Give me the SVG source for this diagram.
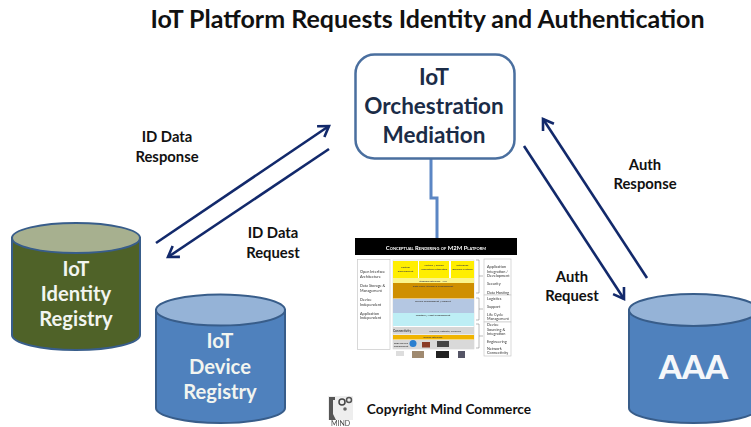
<svg xmlns="http://www.w3.org/2000/svg" width="751" height="427" viewBox="0 0 751 427">
<style>
text{font-family:"Lato","Carlito","Open Sans",sans-serif;font-weight:700;text-anchor:middle}
.lbl{font-size:14.800px;fill:#111}
.cyl{font-size:20.200px;fill:#f2f5f0}
.mid{font-size:22.500px;fill:#1b2c47}
.conn{fill:none;stroke:#12296b;stroke-width:2.600;marker-end:url(#a)}
.side text{font-size:3.800px;font-weight:400;fill:#333;text-anchor:start}
.t3{font-size:2.600px;fill:#444}
.box{fill:#fff;stroke:#c8c8c8;stroke-width:.7}
.br{fill:none;stroke:#777;stroke-width:.5}
</style>
<defs>
<marker id="a" markerUnits="userSpaceOnUse" markerWidth="18" markerHeight="18" refX="13" refY="9" orient="auto"><path d="M3 2.500L13 9L3 15.500" fill="none" stroke="#12296b" stroke-width="2.600"/></marker>
<filter id="b" x="-5%" y="-5%" width="110%" height="110%"><feGaussianBlur stdDeviation=".35"/></filter>
</defs>
<rect width="751" height="427" fill="#fff"/>
<text id="title" x="427.500" y="28" style="font-size:25px;fill:#111">IoT Platform Requests Identity and Authentication</text>

<g id="connectors">
<path d="M431 159V198H437V238" fill="none" stroke="#5b86c4" stroke-width="3"/>
<path class="conn" d="M156 243L329 126"/>
<path class="conn" d="M329 149L168 257"/>
<path class="conn" d="M524 146L624 299"/>
<path class="conn" d="M647 278L543 119"/>
</g>

<g id="orchestration">
<rect x="355.500" y="54.500" width="159" height="104" rx="19" fill="#fff" stroke="#4a6f9f" stroke-width="2.500"/>
<text class="mid" x="434" y="85">IoT</text>
<text class="mid" x="434" y="114">Orchestration</text>
<text class="mid" x="434" y="143">Mediation</text>
</g>

<g id="identity-registry">
<path d="M12 238V335C12 343 40 350 76 350S140 343 140 335V238Z" fill="#4f6228" stroke="#385d8a" stroke-width="2"/>
<ellipse cx="76" cy="238" rx="64" ry="15" fill="#a7b08f" stroke="#385d8a" stroke-width="2"/>
<text class="cyl" x="76" y="276">IoT</text>
<text class="cyl" x="76" y="301">Identity</text>
<text class="cyl" x="76" y="326">Registry</text>
</g>

<g id="device-registry">
<path d="M156 310V408C156 416 185 423 220.500 423S285 416 285 408V310Z" fill="#4f81bd" stroke="#385d8a" stroke-width="2"/>
<ellipse cx="220.500" cy="310" rx="64.500" ry="15.500" fill="#95b3d7" stroke="#385d8a" stroke-width="2"/>
<text class="cyl" x="220" y="348">IoT</text>
<text class="cyl" x="220" y="374">Device</text>
<text class="cyl" x="220" y="399">Registry</text>
</g>

<g id="aaa">
<path d="M629 310V408C629 416 658 423 693.500 423S758 416 758 408V310Z" fill="#4f81bd" stroke="#385d8a" stroke-width="2"/>
<ellipse cx="693.500" cy="310" rx="64.500" ry="16" fill="#95b3d7" stroke="#385d8a" stroke-width="2"/>
<text x="693.500" y="379" style="font-size:33px;font-weight:900;fill:#f5f7fa">AAA</text>
</g>

<g id="labels">
<text class="lbl" x="167" y="142">ID Data</text>
<text class="lbl" x="167" y="162">Response</text>
<text class="lbl" x="273" y="238">ID Data</text>
<text class="lbl" x="273" y="258">Request</text>
<text class="lbl" x="645" y="170">Auth</text>
<text class="lbl" x="645" y="189">Response</text>
<text class="lbl" x="572" y="282">Auth</text>
<text class="lbl" x="572" y="301">Request</text>
</g>

<g id="platform" filter="url(#b)">
<rect x="355" y="238" width="162" height="17" fill="#000"/>
<text x="436" y="250" style="font-size:5.900px;fill:#fff;font-variant:small-caps">Conceptual Rendering of M2M Platform</text>
<rect class="box" x="357.500" y="259.500" width="32.500" height="90"/>
<g class="side">
<text x="360" y="273">Open Interface</text><text x="360" y="277.500">Architecture</text>
<text x="360" y="287">Data Storage &amp;</text><text x="360" y="291.500">Management</text>
<text x="360" y="301">Device</text><text x="360" y="305.500">Independent</text>
<text x="360" y="314.500">Application</text><text x="360" y="319">Independent</text>
</g>
<rect x="393" y="260" width="81" height="89" fill="#fff" stroke="#ccc" stroke-width=".5"/>
<rect x="393" y="261" width="25" height="17" fill="#ffee00"/>
<rect x="419" y="261" width="30" height="17" fill="#ffee00"/>
<rect x="451" y="261" width="23" height="17" fill="#ffee00"/>
<rect x="393" y="278" width="81" height="5" fill="#fbf48a"/>
<rect x="393" y="283" width="81" height="15.500" fill="#cf8f06"/>
<rect x="393" y="299" width="81" height="14" fill="#b4c7e2"/>
<rect x="393" y="313" width="81" height="13" fill="#bdeef5"/>
<rect x="393" y="327" width="81" height="7.500" fill="#d6d6d6"/>
<rect x="393" y="335" width="81" height="4.500" fill="#f0b400"/>
<rect x="393" y="340" width="81" height="9" fill="#d9d9d9"/>
<g class="t3">
<text x="405.500" y="268">Custom</text><text x="405.500" y="271.500">Development</text>
<text x="434" y="266">Vertical / Shared</text><text x="434" y="269.500">Application Integration</text>
<text x="462.500" y="266">Enterprise</text><text x="462.500" y="269.500">Business Systems</text>
<text x="433" y="281.500">Standard Interface - API</text>
<text x="433" y="286.500">Data Logic, Storage &amp; Management</text>
<text x="433" y="302">Device Management / Support</text>
<text x="433" y="316">Logistics / Asset Management</text>
<text x="402" y="331.500" style="font-size:3.200px">Connectivity</text>
<text x="445" y="331.500">Wireline, Satellite, Wireless</text>
<text x="433" y="338.300">Device Interface</text>
<text x="401" y="344">Edge Device</text><text x="401" y="347">Independent</text>
</g>
<circle cx="413" cy="343.500" r="3.500" fill="#2a7fd0"/>
<rect x="422" y="342" width="8" height="5.500" fill="#8a3a25"/>
<rect x="437" y="341" width="12" height="6" fill="#444"/>
<rect x="396" y="351" width="8" height="5" fill="#ddd"/>
<rect x="412" y="351" width="12" height="7" fill="#a08a70"/>
<rect x="436" y="351" width="13" height="7" fill="#222"/>
<rect x="458" y="351" width="7" height="7" fill="#556"/>
<rect class="box" x="484" y="259" width="27" height="36"/>
<rect class="box" x="484" y="295" width="27" height="27"/>
<rect class="box" x="484" y="322" width="27" height="34"/>
<g class="side">
<text x="487" y="268">Application</text><text x="487" y="272.500">Integration /</text><text x="487" y="277">Development</text>
<text x="487" y="285">Security</text>
<text x="487" y="293.500">Data Hosting</text>
<text x="487" y="300">Logistics</text>
<text x="487" y="308">Support</text>
<text x="487" y="315.500">Life Cycle</text><text x="487" y="320">Management</text>
<text x="487" y="326">Device</text><text x="487" y="330.500">Sourcing &amp;</text><text x="487" y="335">Integration</text>
<text x="487" y="342.500">Engineering</text>
<text x="487" y="349.500">Network</text><text x="487" y="354">Connectivity</text>
</g>
<path class="br" d="M476 260H479V293H476M479 276H483M476 298H479V320H476M479 309H483M476 324H479V348H476M479 336H483"/>
</g>

<g id="logo" filter="url(#b)">
<rect x="328" y="396" width="25" height="24" fill="#eee"/>
<path d="M329 397H335V400H333V414L336 420H329Z" fill="#555"/>
<circle cx="342" cy="402" r="3" fill="none" stroke="#444" stroke-width="1.500"/>
<circle cx="349" cy="400" r="2.500" fill="none" stroke="#555" stroke-width="1.500"/>
<circle cx="345" cy="409" r="1.800" fill="#666"/>
<text x="340.500" y="426" style="font-size:7px;font-weight:400;fill:#444">MIND</text>
</g>
<text id="copyright" x="449" y="414" style="font-size:13.700px;fill:#111">Copyright Mind Commerce</text>
</svg>
